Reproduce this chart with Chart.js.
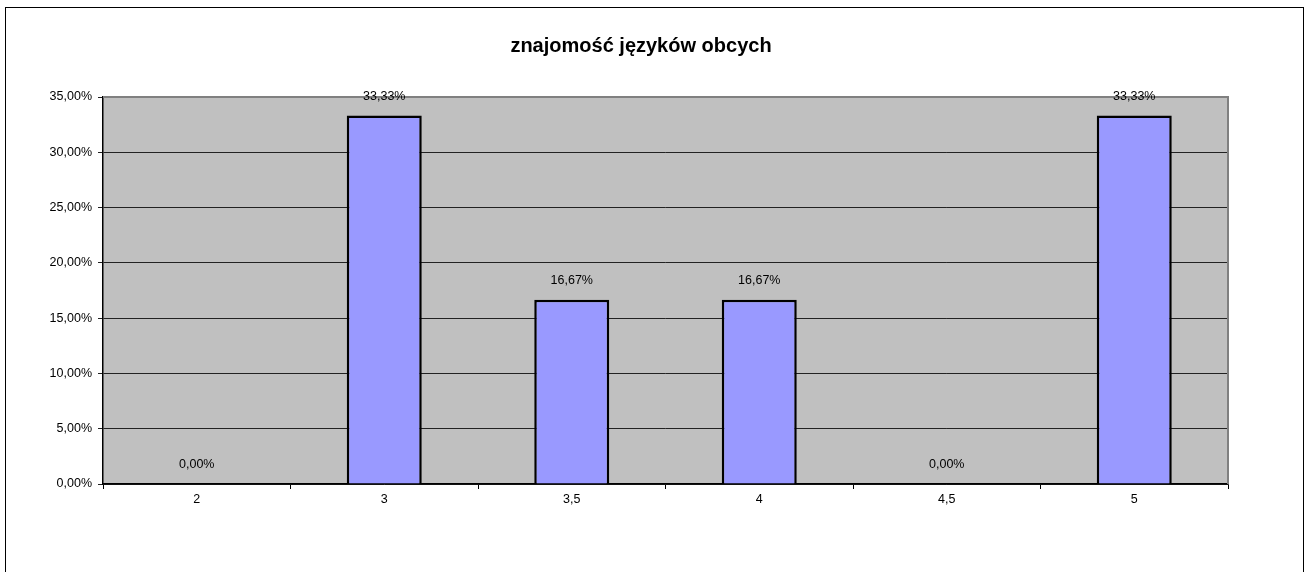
<!DOCTYPE html>
<html>
<head>
<meta charset="utf-8">
<script src="https://cdn.jsdelivr.net/npm/chart.js@4/dist/chart.umd.min.js"></script>
<style>
  html, body { margin: 0; padding: 0; background: #fff; }
  #wrap { width: 1306px; height: 572px; position: relative; }
</style>
</head>
<body>
<div id="wrap"><canvas id="barChart" width="1306" height="572"></canvas></div>
<script>
const categories = ['2', '3', '3,5', '4', '4,5', '5'];
const shares = [0, 33.33, 16.67, 16.67, 0, 33.33];
const chartTitle = 'znajomość języków obcych';

function pl(v) {
    return v.toFixed(2).replace('.', ',') + '%';
}

// frame, title and value labels drawn by hand
const decor = {
    id: 'decor',
    beforeDraw(chart) {
        const ctx = chart.ctx;
        const a = chart.chartArea;
        ctx.save();
        ctx.fillStyle = '#c0c0c0';
        ctx.fillRect(a.left, a.top, a.right - a.left, a.bottom - a.top);
        ctx.strokeStyle = '#000';
        ctx.lineWidth = 1;
        ctx.strokeRect(5.5, 7.5, 1298, 600);
        ctx.fillStyle = '#000';
        ctx.font = 'bold 20px "Liberation Sans", Arial, sans-serif';
        ctx.textAlign = 'center';
        ctx.textBaseline = 'middle';
        ctx.fillText(chartTitle, 641, 46);
        ctx.restore();
    },
    afterDatasetsDraw(chart) {
        const ctx = chart.ctx;
        const a = chart.chartArea;
        const meta = chart.getDatasetMeta(0);
        ctx.save();
        ctx.strokeStyle = '#808080';
        ctx.lineWidth = 2;
        ctx.beginPath();
        ctx.moveTo(a.left, a.top);
        ctx.lineTo(a.right, a.top);
        ctx.lineTo(a.right, a.bottom);
        ctx.stroke();
        ctx.fillStyle = '#000';
        ctx.font = '12.5px "Liberation Sans", Arial, sans-serif';
        ctx.textAlign = 'center';
        ctx.textBaseline = 'middle';
        meta.data.forEach((bar, i) => {
            ctx.fillText(pl(shares[i]), bar.x, bar.y - 19);
        });
        ctx.restore();
    }
};

document.addEventListener("DOMContentLoaded", function () {
    const ctx = document.getElementById('barChart').getContext('2d');
    new Chart(ctx, {
        type: 'bar',
        data: {
            labels: categories,
            datasets: [{
                data: shares,
                backgroundColor: '#9999ff',
                borderColor: '#000',
                borderWidth: 2.5,
                barPercentage: 0.4,
                categoryPercentage: 1
            }]
        },
        options: {
            responsive: false,
            animation: false,
            layout: { padding: { top: 97, right: 78, left: 0, bottom: 0 } },
            plugins: {
                legend: { display: false },
                title: { display: false },
                tooltip: { enabled: false }
            },
            scales: {
                x: {
                    afterFit(s) { s.height = 88; },
                    grid: { drawOnChartArea: false, drawTicks: true, tickLength: 5, color: '#000', offset: true },
                    border: { color: '#000', width: 1.5 },
                    ticks: { color: '#000', font: { family: '"Liberation Sans", Arial', size: 12.5 }, padding: 3 }
                },
                y: {
                    min: 0,
                    max: 35,
                    afterFit(s) { s.width = 103; },
                    grid: { color: '#222', tickLength: 5, drawTicks: true },
                    border: { color: '#000', width: 1.5 },
                    ticks: {
                        stepSize: 5,
                        color: '#000',
                        padding: 6,
                        font: { family: '"Liberation Sans", Arial', size: 12.5 },
                        callback: v => pl(v)
                    }
                }
            }
        },
        plugins: [decor]
    });
});
</script>
</body>
</html>
